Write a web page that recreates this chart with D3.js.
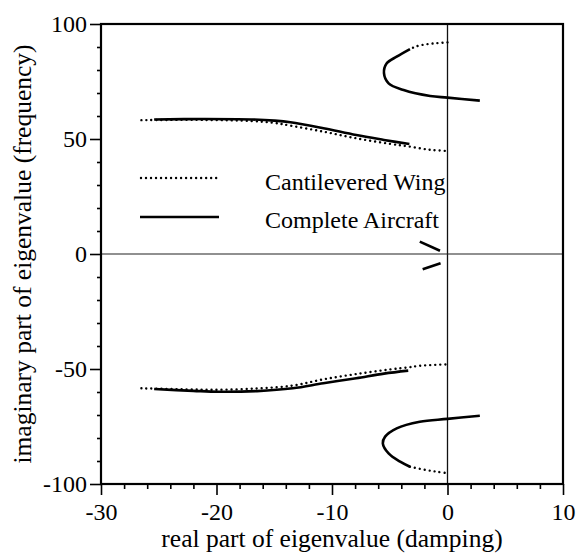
<!DOCTYPE html>
<html>
<head>
<meta charset="utf-8">
<script src="https://cdn.jsdelivr.net/npm/d3@7"></script>
<style>
  html, body { margin: 0; padding: 0; background: #fff; }
  svg { display: block; }
  text { font-family: "Liberation Serif", "Times New Roman", serif; fill: #000; }
</style>
</head>
<body>
<script>
// Root-locus style eigenvalue traces: [real part (damping), imaginary part (frequency)]

// Cantilevered wing (dotted)
const wingUpper = [[-26.5, 58.2], [-21, 58.3], [-17, 57.8], [-15, 57.0], [-13.6, 55.8],
  [-10.75, 53.2], [-7.9, 50.3], [-5, 47.9], [-3.3, 46.7], [-1.5, 45.3], [0, 44.8]];
const wingLower = [[-26.5, -58.4], [-22, -58.9], [-19.8, -59.0], [-16.5, -58.5], [-13.4, -57.2],
  [-10.75, -54.5], [-7.9, -52.2], [-5, -50.2], [-3.4, -49.3], [-2.4, -48.6], [0, -48.0]];
const wingLoopUpper = [[0, 92.0], [-1.1, 91.6], [-2.2, 90.9], [-2.8, 90.1], [-3.25, 89.1]];
const wingLoopLower = [[-3.25, -92.5], [-2, -93.8], [-1, -94.6], [0, -95.3]];

// Complete aircraft (solid)
const acUpper = [[-25.4, 58.5], [-21, 58.7], [-17, 58.5], [-15, 58.0], [-13.6, 57.3],
  [-10.75, 54.7], [-7.9, 51.7], [-5.5, 49.6], [-3.3, 47.8]];
const acLower = [[-25.4, -58.7], [-22, -59.5], [-19.8, -59.9], [-16.5, -59.6], [-13.4, -58.4],
  [-10.75, -56.2], [-7.9, -54.0], [-5.5, -52.0], [-3.4, -50.7]];
const acLoopUpper = [[-3.25, 89.1], [-4.4, 85.8], [-5.26, 82.9], [-5.5, 78.6], [-5.1, 74.2],
  [-3.8, 71.3], [-1.5, 68.7], [0, 68.0], [2.8, 66.7]];
const acLoopLower = [[2.8, -70.3], [0, -71.7], [-2.4, -72.9], [-4.4, -75.8], [-5.4, -79.4],
  [-5.6, -82.3], [-5.1, -86.7], [-4.1, -90.3], [-3.25, -92.5]];
const acNearOriginUpper = [[-2.4, 5.4], [-0.65, 1.4]];
const acNearOriginLower = [[-2.15, -6.65], [-0.6, -4.0]];

// Axes
const xDomain = [-30, 10];
const yDomain = [-100, 100];
const xMajorTicks = [-30, -20, -10, 0, 10];
const yMajorTicks = [-100, -50, 0, 50, 100];
const xMinorStep = 2;
const yMinorStep = 10;
const xTitle = "real part of eigenvalue (damping)";
const yTitle = "imaginary part of eigenvalue (frequency)";
const legendLabels = ["Cantilevered Wing", "Complete Aircraft"];

const W = 580, H = 559;
const margin = { left: 101, right: 17, top: 24, bottom: 75 };

const svg = d3.select("body").append("svg").attr("width", W).attr("height", H);

const x = d3.scaleLinear().domain(xDomain).range([margin.left, W - margin.right]);
const y = d3.scaleLinear().domain(yDomain).range([H - margin.bottom, margin.top]);

const x0 = x.range()[0], x1 = x.range()[1];
const yTop = y.range()[1], yBot = y.range()[0];

// plain hyphen for negative tick labels
const fmt = d => String(d);

// zero lines
svg.append("line").attr("x1", x(0)).attr("x2", x(0)).attr("y1", yTop).attr("y2", yBot)
  .attr("stroke", "#111").attr("stroke-width", 1.3);
svg.append("line").attr("x1", x0).attr("x2", x1).attr("y1", y(0)).attr("y2", y(0))
  .attr("stroke", "#222").attr("stroke-width", 1.2);

// minor ticks
const xMinor = d3.range(xDomain[0], xDomain[1] + 0.001, xMinorStep).filter(v => !xMajorTicks.includes(v));
const yMinor = d3.range(yDomain[0], yDomain[1] + 0.001, yMinorStep).filter(v => !yMajorTicks.includes(v));

const xAxisMinor = d3.axisBottom(x).tickValues(xMinor).tickSize(5).tickFormat("");
const yAxisMinor = d3.axisLeft(y).tickValues(yMinor).tickSize(4).tickFormat("");
const xAxis = d3.axisBottom(x).tickValues(xMajorTicks).tickSize(11).tickPadding(14).tickFormat(fmt);
const yAxis = d3.axisLeft(y).tickValues(yMajorTicks).tickSize(11).tickPadding(3).tickFormat(fmt);

function styleAxis(g) {
  g.select(".domain").remove();
  g.selectAll(".tick line").attr("stroke", "#000").attr("stroke-width", 1.6);
  g.selectAll(".tick text").attr("font-family", "Liberation Serif, serif").attr("font-size", 24).attr("fill", "#000");
}

svg.append("g").attr("transform", `translate(0,${yBot})`).call(xAxisMinor).call(styleAxis);
svg.append("g").attr("transform", `translate(${x0},0)`).call(yAxisMinor).call(styleAxis);
const gx = svg.append("g").attr("transform", `translate(0,${yBot})`).call(xAxis).call(styleAxis);
const gy = svg.append("g").attr("transform", `translate(${x0},0)`).call(yAxis).call(styleAxis);
gx.selectAll(".tick text").attr("dy", "0.45em");

// frame
svg.append("rect").attr("x", x0).attr("y", yTop).attr("width", x1 - x0).attr("height", yBot - yTop)
  .attr("fill", "none").attr("stroke", "#000").attr("stroke-width", 2.2);

// traces
const line = d3.line().x(d => x(d[0])).y(d => y(d[1])).curve(d3.curveCatmullRom.alpha(0.5));

const dotted = [wingUpper, wingLower, wingLoopUpper, wingLoopLower];
const solid = [acUpper, acLower, acLoopUpper, acLoopLower, acNearOriginUpper, acNearOriginLower];

svg.append("g").selectAll("path").data(dotted).join("path")
  .attr("d", line).attr("fill", "none").attr("stroke", "#000")
  .attr("stroke-width", 2.4).attr("stroke-linecap", "round").attr("stroke-dasharray", "0.01,5");

svg.append("g").selectAll("path").data(solid).join("path")
  .attr("d", line).attr("fill", "none").attr("stroke", "#000")
  .attr("stroke-width", 2.6).attr("stroke-linecap", "butt");

// legend
const lg = svg.append("g");
lg.append("line").attr("x1", 141).attr("x2", 219).attr("y1", 178).attr("y2", 178)
  .attr("stroke", "#000").attr("stroke-width", 2.4).attr("stroke-linecap", "round").attr("stroke-dasharray", "0.01,5");
lg.append("line").attr("x1", 140).attr("x2", 219).attr("y1", 217).attr("y2", 217)
  .attr("stroke", "#000").attr("stroke-width", 2.6);
lg.append("text").attr("x", 265).attr("y", 190).attr("font-size", 24).text(legendLabels[0]);
lg.append("text").attr("x", 265).attr("y", 228).attr("font-size", 24).text(legendLabels[1]);

// axis titles
svg.append("text").attr("x", (x0 + x1) / 2).attr("y", 547).attr("text-anchor", "middle")
  .attr("font-size", 25.5).text(xTitle);
svg.append("text").attr("transform", `translate(31,${(yTop + yBot) / 2}) rotate(-90)`)
  .attr("text-anchor", "middle").attr("font-size", 25.5).text(yTitle);
</script>
</body>
</html>
